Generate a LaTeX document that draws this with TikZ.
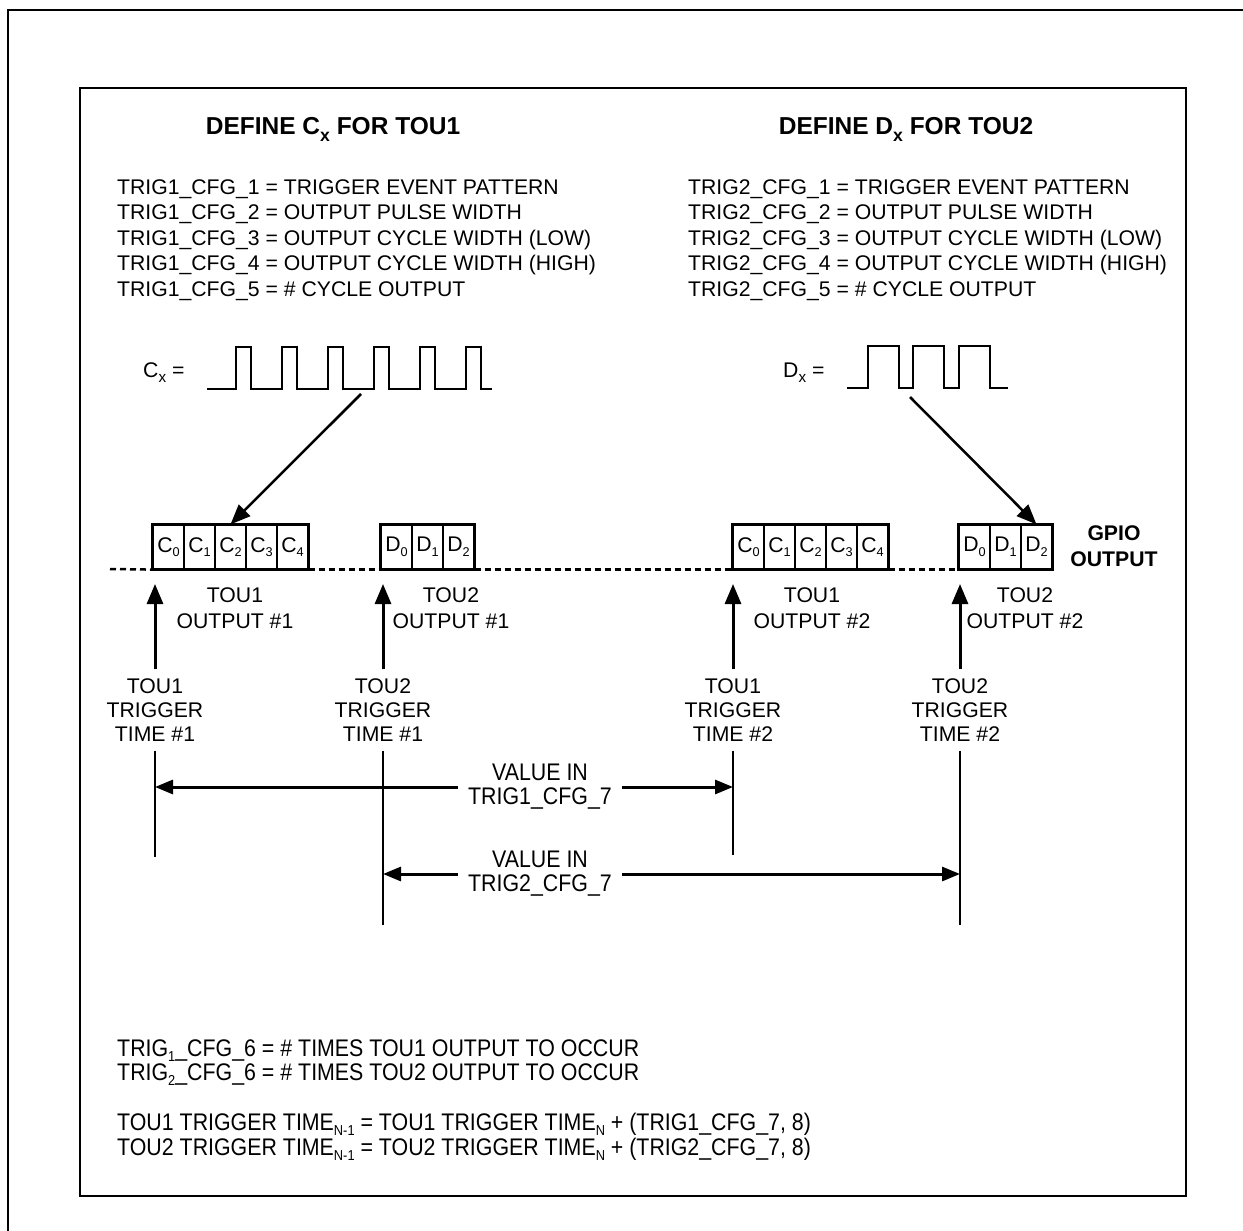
\documentclass[tikz,border=0pt]{standalone}
\usepackage{fontspec}
\usepackage{graphicx}
\setmainfont{Liberation Sans}
\newfontfamily\narrowf[FakeStretch=0.89]{Liberation Sans}
\usetikzlibrary{arrows.meta}
\newcommand\lsub[1]{\raisebox{-0.22em}{\scalebox{0.6}{#1}}}
\newcommand\bsub[1]{\raisebox{-0.25em}{\scalebox{0.72}{#1}}}
\begin{document}
\begin{tikzpicture}[x=1pt,y=-1pt,
  every node/.style={inner sep=0pt},
  fnt/.style={font=\fontsize{21.2}{25.4}\selectfont},
  ttl/.style={font=\fontsize{24.5}{28}\selectfont\bfseries},
  trg/.style={font=\fontsize{21.2}{24}\selectfont, align=center, inner ysep=9pt},
  nrw/.style={font=\narrowf\fontsize{24}{24}\selectfont},
  cellbox/.style={draw, line width=1.2pt, minimum width=31pt, minimum height=44pt, fnt},
  boxframe/.style={line width=2.5pt},
  frame/.style={line width=2.7pt},
  wave/.style={line width=2.5pt, line join=miter},
  tip/.style={-{Triangle[length=20pt,width=16pt]}, line width=3pt},
  diag/.style={-{Triangle[length=20pt,width=16pt]}, line width=2.5pt},
  dim/.style={-{Triangle[length=18pt,width=14pt]}, line width=3pt},
  vline/.style={line width=2pt},
  gdash/.style={line width=2.5pt, dash pattern=on 6pt off 4pt},
]
\useasboundingbox (0,0) rectangle (1243,1231);

% frames
\draw[frame] (8,1231) -- (8,10) -- (1243,10);
\draw[frame] (80,88) rectangle (1186,1196);

% titles
\node[ttl, anchor=base] (tc) at (333,135) {DEFINE C\bsub{x} FOR TOU1};
\node[ttl, anchor=base] (td) at (906,135) {DEFINE D\bsub{x} FOR TOU2};

% config lists
\foreach \i/\t in {1/TRIGGER EVENT PATTERN, 2/OUTPUT PULSE WIDTH, 3/OUTPUT CYCLE WIDTH (LOW), 4/OUTPUT CYCLE WIDTH (HIGH), 5/\# CYCLE OUTPUT}{
  \node[fnt, anchor=base west] (l\i) at (117,{194.5+25.4*(\i-1)}) {TRIG1\_CFG\_\i{} = \t};
  \node[fnt, anchor=base west] (r\i) at (688,{194.5+25.4*(\i-1)}) {TRIG2\_CFG\_\i{} = \t};
}

% waveforms
\node[fnt, anchor=base west] (cx) at (143,377.5) {C\bsub{x} =};
\node[fnt, anchor=base west] (dx) at (783,377.5) {D\bsub{x} =};
\draw[wave] (207,389) -| (236,347) -| (251,389) -| (282,347) -| (297,389)
  -| (328,347) -| (343,389) -| (374,347) -| (389,389) -| (420,347) -| (435,389)
  -| (466,347) -| (481,389) -- (492,389);
\draw[wave] (847,388) -| (868,346) -| (899,388) -| (913,346) -| (944,388)
  -| (959,346) -| (990,388) -- (1008,388);

% cells
\foreach \k in {0,...,4}{
  \node[cellbox] (ca\k) at ({168.5+31*\k},547) {C\lsub{\k}};
  \node[cellbox] (cb\k) at ({748.5+31*\k},547) {C\lsub{\k}};
}
\foreach \k in {0,1,2}{
  \node[cellbox] (da\k) at ({396.5+31*\k},547) {D\lsub{\k}};
  \node[cellbox] (db\k) at ({974.5+31*\k},547) {D\lsub{\k}};
}
\draw[boxframe] (ca0.north west) rectangle (ca4.south east);
\draw[boxframe] (cb0.north west) rectangle (cb4.south east);
\draw[boxframe] (da0.north west) rectangle (da2.south east);
\draw[boxframe] (db0.north west) rectangle (db2.south east);

% dashed GPIO line
\coordinate (ds) at (110,569);
\draw[gdash] (ds) -- (ca0.south west);
\draw[gdash] (ca4.south east) -- (da0.south west);
\draw[gdash] (da2.south east) -- (cb0.south west);
\draw[gdash] (cb4.south east) -- (db0.south west);

\node[font=\fontsize{21.2}{25.5}\selectfont\bfseries, align=center] (gp) at (1114,546) {GPIO\\OUTPUT};

% diagonal arrows
\coordinate (cw) at (361,394);
\coordinate (dw) at (910,397);
\draw[diag] (cw) -- (ca2.north);
\draw[diag] (dw) -- (db2.north);

% output labels
\node[fnt, align=center] (o1) at (235,608) {TOU1\\OUTPUT \#1};
\node[fnt, align=center] (o2) at (451,608) {TOU2\\OUTPUT \#1};
\node[fnt, align=center] (o3) at (812,608) {TOU1\\OUTPUT \#2};
\node[fnt, align=center] (o4) at (1025,608) {TOU2\\OUTPUT \#2};

% trigger labels
\node[trg] (t1) at (155,710) {TOU1\\TRIGGER\\TIME \#1};
\node[trg] (t2) at (383,710) {TOU2\\TRIGGER\\TIME \#1};
\node[trg] (t3) at (733,710) {TOU1\\TRIGGER\\TIME \#2};
\node[trg] (t4) at (960,710) {TOU2\\TRIGGER\\TIME \#2};

\coordinate (u1) at (155,584);
\coordinate (u2) at (383,584);
\coordinate (u3) at (733,584);
\coordinate (u4) at (960,584);
\draw[tip] (t1.north) -- (u1);
\draw[tip] (t2.north) -- (u2);
\draw[tip] (t3.north) -- (u3);
\draw[tip] (t4.north) -- (u4);

\coordinate (b1) at (155,857);
\coordinate (b2) at (383,925);
\coordinate (b3) at (733,855);
\coordinate (b4) at (960,925);
\draw[vline] (t1.south) -- (b1);
\draw[vline] (t2.south) -- (b2);
\draw[vline] (t3.south) -- (b3);
\draw[vline] (t4.south) -- (b4);

% interval arrows
\node[nrw, align=center, inner xsep=10pt] (v1) at (540,787) {VALUE IN\\TRIG1\_CFG\_7};
\node[nrw, align=center, inner xsep=10pt] (v2) at (540,874) {VALUE IN\\TRIG2\_CFG\_7};
\coordinate (h1l) at (155,787);
\coordinate (h1r) at (733,787);
\coordinate (h2l) at (383,874);
\coordinate (h2r) at (960,874);
\draw[dim] (v1.west) -- (h1l);
\draw[dim] (v1.east) -- (h1r);
\draw[dim] (v2.west) -- (h2l);
\draw[dim] (v2.east) -- (h2r);

% bottom notes
\node[nrw, anchor=base west] (n1) at (117,1056.5) {TRIG\lsub{1}\_CFG\_6 = \# TIMES TOU1 OUTPUT TO OCCUR};
\node[nrw, anchor=base west] (n2) at (117,1080.5) {TRIG\lsub{2}\_CFG\_6 = \# TIMES TOU2 OUTPUT TO OCCUR};
\node[nrw, anchor=base west] (n3) at (117,1130.5) {TOU1 TRIGGER TIME\lsub{N-1} = TOU1 TRIGGER TIME\lsub{N} + (TRIG1\_CFG\_7, 8)};
\node[nrw, anchor=base west] (n4) at (117,1155.5) {TOU2 TRIGGER TIME\lsub{N-1} = TOU2 TRIGGER TIME\lsub{N} + (TRIG2\_CFG\_7, 8)};
\end{tikzpicture}
\end{document}
